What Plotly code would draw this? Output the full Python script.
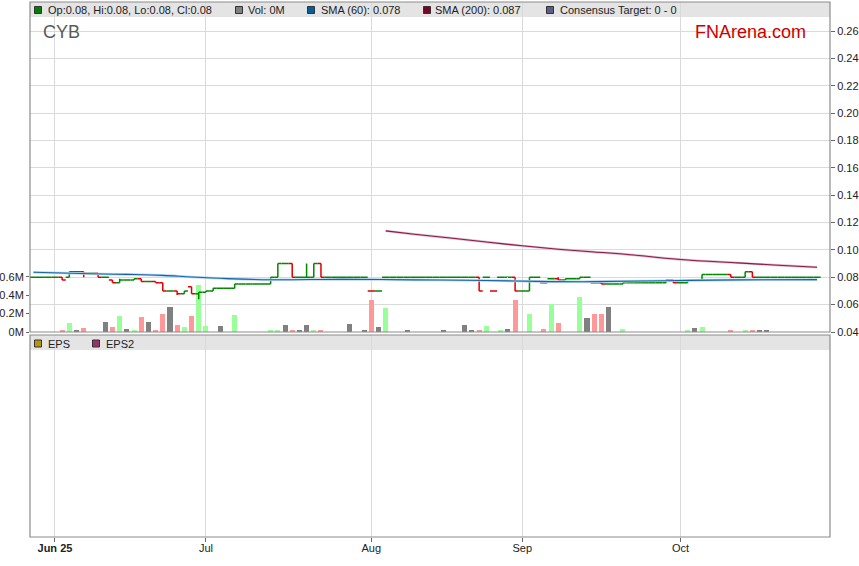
import pandas as pd
import plotly.graph_objects as go

# ---------------- data ----------------
dates = pd.bdate_range("2025-05-28", "2025-10-28")  # trading days shown
month_labels = ["<b>Jun 25</b>", "Jul", "Aug", "Sep", "Oct"]

close = [
    .080, .080, .080, .080,
    .078, .084, .084, .083, .083, .080, .080, .076, .078, .078,
    .079, .077, .077, .076, .070, .070, .068, .070, .068, .069,
    .070, .072, .072, .072, .075, .075, .075, .075, .075, .080,
    .090, .090, .080, .080, .080, .090, .080, .080, .080, .080,
    .080, .080, .080, .070, .070, .080, .080, .080, .080, .080,
    .080, .080, .080, .080, .080, .080, .080, .080, .070, .080,
    .070, .080, .080, .070, .070, .080, .080, .076, .079, .078,
    .079, .079, .080, .080, .076, .075, .075, .075, .076, .076,
    .076, .076, .076, .076, .078, .076, .076, .078, .078, .082,
    .082, .082, .082, .080, .080, .084, .080, .080, .080, .080,
    .080, .080, .080, .080, .080, .080,
]
# day offsets counted from Jun 2 (first day shown = -3)
open_gaps = {2: .080, 4: .084, 8: .078, 19: .073, 44: .070, 46: .080, 60: .080,
             61: .070, 62: .080, 68: .076, 69: .079, 70: .079, 75: .076, 97: .084}
high_marks = {4: .084, 9: .079, 19: .073, 35: .090, 70: .080}
low_marks = {4: .080, 17: .067, 20: .064, 97: .080}

volume_m = [
    0, 0, 0, 0,
    .02, .10, .015, .045, 0, 0, .11, .055, .17, .035,
    .015, .16, .11, .015, .19, .27, .075, .055, .17, .51,
    .065, 0, .065, 0, .18, 0, 0, 0, 0, .015,
    .015, .075, .015, .02, .075, .015, .015, 0, 0, 0,
    .085, 0, .015, .35, .055, .26, 0, 0, .015, 0,
    0, 0, 0, .015, 0, 0, .075, .015, .015, .065,
    0, .015, .035, .35, 0, .2, 0, .035, .3, .1,
    0, 0, .375, .15, .2, .2, .27, 0, .035, 0,
    0, 0, 0, 0, 0, 0, 0, .02, .045, .05,
    0, 0, 0, .015, 0, .02, .015, .015, .015, 0,
    0, 0, 0, 0, 0, 0,
]

sma60_day = [-3, 5, 10, 15, 19, 24, 30, 40, 50, 60, 67, 75, 85, 95, 106]
sma60_val = [.0837, .0826, .0821, .0814, .0802, .0790, .0782, .0785, .0781,
             .0777, .0770, .0768, .0775, .0781, .0783]
sma200_day = [46, 50, 55, 60, 65, 70, 75, 80, 87, 95, 100, 106]
sma200_val = [.1139, .1115, .1087, .1058, .1030, .1005, .0985, .0965, .0930,
              .0905, .0890, .0873]

price_ticks = [0.04, 0.06, 0.08, 0.10, 0.12, 0.14, 0.16, 0.18, 0.20, 0.22, 0.24, 0.26]
vol_ticks = [0, 0.2, 0.4, 0.6]
vol_tick_text = ["0M", "0.2M", "0.4M", "0.6M"]

# ---------------- derived ----------------
n = len(close)
pos = list(range(n))
OFF = 3  # position of Jun 2
opens, highs, lows = [], [], []
for i in range(n):
    d = i - OFF
    o = open_gaps.get(d, close[i - 1] if i > 0 else close[i])
    h = max(o, close[i], high_marks.get(d, 0))
    l = min(o, close[i], low_marks.get(d, 1))
    opens.append(o); highs.append(h); lows.append(l)

up = [i == 0 or close[i] >= close[i - 1] for i in range(n)]
vol_col = []
for i in range(n):
    if i == 0 or close[i] == close[i - 1]:
        vol_col.append("#808080")
    elif close[i] > close[i - 1]:
        vol_col.append("#99ff99")
    else:
        vol_col.append("#ff9999")

month_pos = []
seen = set()
for i, d in enumerate(dates):
    if d.month not in seen:
        seen.add(d.month)
        if d.month != 5:
            month_pos.append(i)

GREEN = "#008800"
RED = "#dd0000"

fig = go.Figure()

fig.add_trace(go.Bar(x=pos, y=volume_m, marker=dict(color=vol_col, line=dict(width=0)),
                     width=0.7, xaxis="x", yaxis="y", hoverinfo="skip"))


def pick(lst, flag):
    return [v if f == flag else None for v, f in zip(lst, up)]


for flag, col in ((True, GREEN), (False, RED)):
    fig.add_trace(go.Ohlc(x=pos, open=pick(opens, flag), high=pick(highs, flag),
                          low=pick(lows, flag), close=pick(close, flag),
                          tickwidth=0.5,
                          increasing=dict(line=dict(color=col, width=1.5)),
                          decreasing=dict(line=dict(color=col, width=1.5)),
                          xaxis="x", yaxis="y2", hoverinfo="skip"))

fig.add_trace(go.Scatter(x=[d + OFF for d in sma60_day], y=sma60_val, mode="lines",
                         line=dict(color="#b7d6ee", width=2.6, shape="spline"),
                         xaxis="x", yaxis="y2", hoverinfo="skip"))
fig.add_trace(go.Scatter(x=[d + OFF for d in sma60_day], y=sma60_val, mode="lines",
                         line=dict(color="#1565a6", width=1.1, shape="spline"),
                         xaxis="x", yaxis="y2", hoverinfo="skip"))
fig.add_trace(go.Scatter(x=[d + OFF for d in sma200_day], y=sma200_val, mode="lines",
                         line=dict(color="#e2bccb", width=2.4, shape="spline"),
                         xaxis="x", yaxis="y2", hoverinfo="skip"))
fig.add_trace(go.Scatter(x=[d + OFF for d in sma200_day], y=sma200_val, mode="lines",
                         line=dict(color="#8a1a45", width=1.1, shape="spline"),
                         xaxis="x", yaxis="y2", hoverinfo="skip"))
fig.add_trace(go.Scatter(x=[], y=[], xaxis="x", yaxis="y3"))

# ---------------- geometry ----------------
W, H = 859, 566
L, R, T, B = 30, 830, 2, 537


def px(xp):
    return (xp - L) / (R - L)


def py(yp):
    return (B - yp) / (B - T)


TOP_BOT = 332
LOW_TOP = 335
price_pp = 1368.0
vol_pp = 92.2
price_top = 0.04 + (TOP_BOT - T) / price_pp
vol_top = (TOP_BOT - T) / vol_pp

FONT = "Liberation Sans, Arial, sans-serif"
GRID = "#dadada"
BORDER = "#8c8c8c"

fig.update_layout(
    width=W, height=H,
    margin=dict(l=L, r=W - R, t=T, b=H - B, pad=0, autoexpand=False),
    paper_bgcolor="white", plot_bgcolor="white",
    showlegend=False, bargap=0,
    font=dict(family=FONT, size=11, color="#222"),
    xaxis=dict(range=[-0.47, 110.8], anchor="y3", tickvals=month_pos, ticktext=month_labels,
               showgrid=True, gridcolor=GRID, gridwidth=1, zeroline=False,
               ticks="outside", ticklen=4, tickcolor="#666", showline=False,
               ticklabelstandoff=-3,
               rangeslider=dict(visible=False), tickfont=dict(size=11, color="#222")),
    yaxis=dict(domain=[py(TOP_BOT), 1.0], range=[0, vol_top], side="left",
               tickvals=vol_ticks, ticktext=vol_tick_text, showgrid=False, zeroline=False,
               ticks="outside", ticklen=3, tickcolor="#666", showline=False,
               tickfont=dict(size=11, color="#222")),
    yaxis2=dict(overlaying="y", side="right", range=[0.04, price_top], tickvals=price_ticks,
                tickformat=".2f", showgrid=True, gridcolor=GRID, zeroline=False,
                ticks="outside", ticklen=4, tickcolor="#666", showline=False,
                tickfont=dict(size=11, color="#222")),
    yaxis3=dict(domain=[0, py(LOW_TOP)], range=[0, 1], showticklabels=False,
                showgrid=False, zeroline=False, ticks=""),
)

shapes = []
# legend bands
shapes.append(dict(type="rect", xref="paper", yref="paper", x0=0, x1=1, y0=py(17), y1=py(T),
                   fillcolor="#e4e4e4", line=dict(width=0), layer="below"))
shapes.append(dict(type="rect", xref="paper", yref="paper", x0=0, x1=1, y0=py(350), y1=py(LOW_TOP),
                   fillcolor="#e4e4e4", line=dict(width=0), layer="below"))
# borders
shapes.append(dict(type="rect", xref="paper", yref="paper", x0=0, x1=1, y0=py(TOP_BOT), y1=py(T),
                   line=dict(color=BORDER, width=1.2), layer="above"))
shapes.append(dict(type="rect", xref="paper", yref="paper", x0=0, x1=1, y0=0, y1=py(LOW_TOP),
                   line=dict(color=BORDER, width=1.2), layer="above"))

annotations = []


def legend_item(x_sq, y_c, color, text, x_txt):
    shapes.append(dict(type="rect", xref="paper", yref="paper",
                       x0=px(x_sq), x1=px(x_sq + 7), y0=py(y_c + 3.5), y1=py(y_c - 3.5),
                       fillcolor=color, line=dict(color="#333", width=1), layer="above"))
    annotations.append(dict(xref="paper", yref="paper", x=px(x_txt), y=py(y_c), text=text,
                            showarrow=False, xanchor="left", yanchor="middle",
                            font=dict(family=FONT, size=11, color="#222")))


legend_item(34.5, 10, "#008000", "Op:0.08, Hi:0.08, Lo:0.08, Cl:0.08", 45.5)
legend_item(235.5, 10, "#808080", "Vol: 0M", 245.5)
legend_item(307.5, 10, "#005f9e", "SMA (60): 0.078", 318.5)
legend_item(423.5, 10, "#800028", "SMA (200): 0.087", 433)
legend_item(546.5, 10, "#5c5c8a", "Consensus Target: 0 - 0", 557.5)
legend_item(34.5, 343.5, "#b8960c", "EPS", 45.5)
legend_item(92.5, 343.5, "#993366", "EPS2", 103.5)

annotations.append(dict(xref="paper", yref="paper", x=px(41), y=py(32), text="CYB",
                        showarrow=False, xanchor="left", yanchor="middle",
                        font=dict(family=FONT, size=18, color="#5a5a5a")))
annotations.append(dict(xref="paper", yref="paper", x=px(693), y=py(32), text="FNArena.com",
                        showarrow=False, xanchor="left", yanchor="middle",
                        font=dict(family=FONT, size=18, color="#cc0000")))

fig.update_layout(shapes=shapes, annotations=annotations)
fig.write_html("out.html", config={"displayModeBar": False},
               post_script="document.body.style.margin='0';document.body.style.overflow='hidden';")
